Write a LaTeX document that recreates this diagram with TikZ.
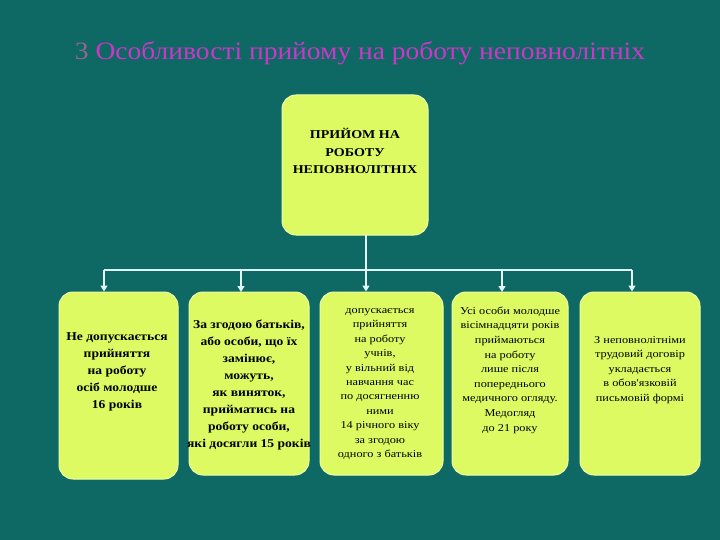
\documentclass[tikz,border=0pt]{standalone}
\usepackage{fontspec}
\setmainfont{Liberation Serif}
\newfontfamily\widefont[FakeStretch=1.17]{Liberation Serif}
\newfontfamily\midfont[FakeStretch=1.13]{Liberation Serif}
\newfontfamily\titlefont[FakeStretch=1.1]{Liberation Serif}
\usetikzlibrary{arrows.meta}
\definecolor{bg}{RGB}{14,104,99}
\definecolor{boxfill}{RGB}{222,250,98}
\definecolor{boxedge}{RGB}{238,255,170}
\definecolor{linec}{RGB}{225,245,245}
\definecolor{titlec}{RGB}{205,55,200}
\definecolor{threec}{RGB}{150,100,150}
\tikzset{
  box/.style={draw=boxedge, line width=1pt, fill=boxfill, rounded corners=14pt, inner sep=0pt},
  txt/.style={align=center, text=black, inner sep=0pt},
  conn/.style={draw=linec, line width=1.4pt},
  arr/.style={conn, -{Triangle[width=7pt,length=6pt]}}
}
\begin{document}
\begin{tikzpicture}[x=1pt,y=-1pt]
\path[fill=bg,use as bounding box] (0,0) rectangle (720,540);
% title
\node[anchor=base, inner sep=0pt, font=\titlefont\fontsize{25}{29}\selectfont] (title) at (360,60)
  {\textcolor{threec}{3} \textcolor{titlec}{Особливості прийому на роботу неповнолітніх}};
% top box
\node[box, minimum width=146pt, minimum height=140pt] (top) at (355,165) {};
\node[txt, font=\widefont\bfseries\fontsize{12}{17.5}\selectfont] (toptxt) at (355,151)
  {ПРИЙОМ НА\\РОБОТУ\\НЕПОВНОЛІТНІХ};
% bottom boxes
\node[box, minimum width=119pt, minimum height=187pt] (b1) at (118.5,385.5) {};
\node[box, minimum width=120pt, minimum height=183pt] (b2) at (249,383.5) {};
\node[box, minimum width=123pt, minimum height=183pt] (b3) at (381.5,383.5) {};
\node[box, minimum width=116pt, minimum height=183pt] (b4) at (510,383.5) {};
\node[box, minimum width=120pt, minimum height=183pt] (b5) at (640,383.5) {};
% texts
\node[txt, font=\midfont\bfseries\fontsize{12}{17}\selectfont] (t1) at (117,372)
  {Не допускається\\прийняття\\на роботу\\осіб молодше\\16 років};
\node[txt, font=\midfont\bfseries\fontsize{12}{17}\selectfont] (t2) at (249,385)
  {За згодою батьків,\\або особи, що їх\\замінює,\\можуть,\\як виняток,\\прийматись на\\роботу особи,\\які досягли 15 років};
\node[txt, font=\widefont\fontsize{10.5}{14.4}\selectfont] (t3) at (380,384)
  {допускається\\прийняття\\на роботу\\учнів,\\у вільний від\\навчання час\\по досягненню\\ними\\14 річного віку\\за згодою\\одного з батьків};
\node[txt, font=\widefont\fontsize{10.5}{14.6}\selectfont] (t4) at (510,370)
  {Усі особи молодше\\вісімнадцяти років\\приймаються\\на роботу\\лише після\\попереднього\\медичного огляду.\\Медогляд\\до 21 року};
\node[txt, font=\widefont\fontsize{10.5}{14.6}\selectfont] (t5) at (640,370)
  {З неповнолітніми\\трудовий договір\\укладається\\в обов'язковій\\письмовій формі};
% connectors
\coordinate (src) at (366,235);
\coordinate (j) at (366,270);
\coordinate (hl) at (104,270);
\coordinate (hr) at (632,270);
\draw[conn] (src) -- (j);
\draw[conn] (hl) -- (hr);
\draw[arr] (hl) -- (hl |- b1.north);
\draw[arr] (241,270) -- (241,292);
\draw[arr] (j) -- (j |- b3.north);
\draw[arr] (502,270) -- (502,292);
\draw[arr] (hr) -- (hr |- b5.north);
\end{tikzpicture}
\end{document}
